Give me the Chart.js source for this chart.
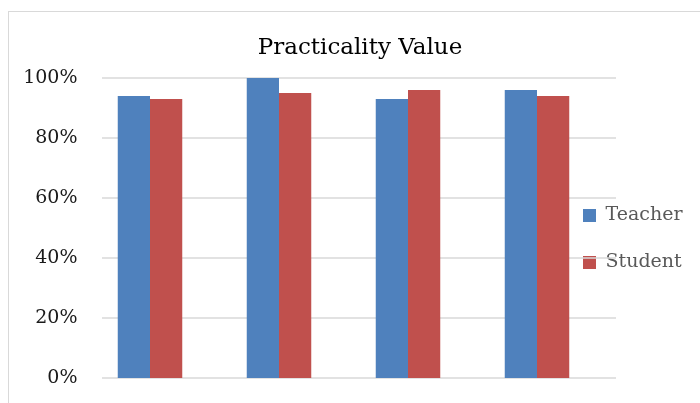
<!DOCTYPE html>
<html>
<head>
<meta charset="utf-8">
<title>Practicality Value</title>
<script src="https://cdn.jsdelivr.net/npm/chart.js@4/dist/chart.umd.min.js"></script>
<style>
  html, body { margin: 0; padding: 0; background: #ffffff; }
  #wrap { width: 700px; height: 403px; }
</style>
</head>
<body>
<div id="wrap"><canvas id="chart" width="700" height="403"></canvas></div>
<script>
// Data
const categories = ['Item 1', 'Item 2', 'Item 3', 'Item 4'];
const teacherValues = [0.94, 1.00, 0.93, 0.96];
const studentValues = [0.93, 0.95, 0.96, 0.94];
const seriesNames = ['Teacher', 'Student'];
const yTicks = [0, 0.2, 0.4, 0.6, 0.8, 1.0];

const FONT = '"DejaVu Serif", "Liberation Serif", serif';
const GRID_COLOR = '#d9d9d9';

// Outer frame of the chart object
const framePlugin = {
  id: 'frame',
  beforeDraw(chart) {
    const ctx = chart.ctx;
    ctx.save();
    ctx.fillStyle = '#ffffff';
    ctx.fillRect(0, 0, chart.width, chart.height);
    ctx.strokeStyle = GRID_COLOR;
    ctx.lineWidth = 1;
    ctx.strokeRect(8.5, 11.5, chart.width + 50, chart.height + 50);
    ctx.restore();
  }
};

// Horizontal gridlines, running a little wider than the bar area
const gridPlugin = {
  id: 'hgrid',
  beforeDatasetsDraw(chart) {
    const y = chart.scales.y;
    const area = chart.chartArea;
    const ctx = chart.ctx;
    ctx.save();
    ctx.strokeStyle = GRID_COLOR;
    ctx.lineWidth = 1.5;
    y.ticks.forEach(t => {
      const py = y.getPixelForValue(t.value);
      ctx.beginPath();
      ctx.moveTo(area.left + 16.5, py);
      ctx.lineTo(area.right + 14.5, py);
      ctx.stroke();
    });
    ctx.restore();
  }
};

// Legend sits partly over the plot's right margin
const LEGEND_DX = -46.5;
const LEGEND_DY = 50;
const legendPlacePlugin = {
  id: 'legendPlace',
  afterLayout(chart) {
    const lg = chart.legend;
    if (!lg) return;
    lg.left += LEGEND_DX;
    lg.right = chart.width;
    lg.top += LEGEND_DY;
    lg.bottom += LEGEND_DY;
  }
};

new Chart(document.getElementById('chart'), {
  type: 'bar',
  data: {
    labels: categories,
    datasets: [
      { label: seriesNames[0], data: teacherValues, backgroundColor: '#4f81bd', borderWidth: 0 },
      { label: seriesNames[1], data: studentValues, backgroundColor: '#c0504d', borderWidth: 0 }
    ]
  },
  options: {
    responsive: false,
    animation: false,
    devicePixelRatio: 1,
    layout: { padding: { left: 20, right: 0, top: 0, bottom: 25 } },
    datasets: { bar: { categoryPercentage: 0.5, barPercentage: 1.0 } },
    scales: {
      x: { display: false, offset: true },
      y: {
        min: 0,
        max: 1,
        afterFit(s) { s.width = 65.5; },
        afterBuildTicks(s) { s.ticks = yTicks.map(v => ({ value: v })); },
        grid: { display: false, drawTicks: false },
        border: { display: false },
        ticks: {
          padding: 8,
          color: '#1a1a1a',
          font: { family: FONT, size: 19 },
          callback: v => Math.round(v * 100) + '%'
        }
      }
    },
    plugins: {
      title: {
        display: true,
        text: 'Practicality Value',
        color: '#000000',
        font: { family: FONT, size: 23, weight: 'normal' },
        padding: { top: 34, bottom: 16.4 }
      },
      legend: {
        position: 'right',
        maxWidth: 98.5,
        labels: {
          boxWidth: 13,
          boxHeight: 13,
          padding: 28,
          color: '#595959',
          font: { family: FONT, size: 19 }
        }
      },
      tooltip: { enabled: false }
    }
  },
  plugins: [framePlugin, gridPlugin, legendPlacePlugin]
});
</script>
</body>
</html>
